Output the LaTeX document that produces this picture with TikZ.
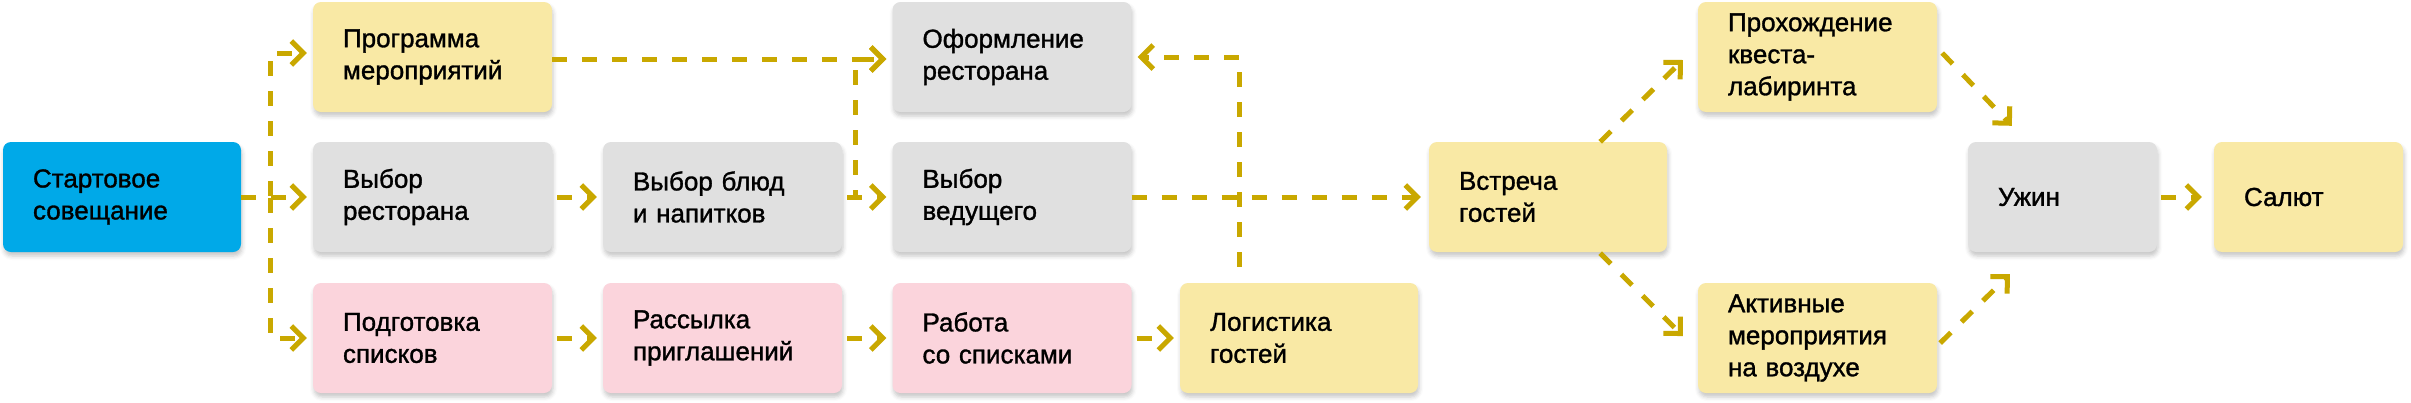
\documentclass[tikz,border=0pt]{standalone}
\usepackage{fontspec}
\setmainfont{Liberation Sans}
\newfontfamily\boxfont[FakeBold=1.2]{Liberation Sans}
\usetikzlibrary{arrows.meta,calc,shadows.blur}
\definecolor{cblue}{HTML}{00A9E8}
\definecolor{cyel}{HTML}{F9E9A5}
\definecolor{cgray}{HTML}{E0E0E0}
\definecolor{cpink}{HTML}{FBD4DC}
\definecolor{carrow}{HTML}{C9A800}
\begin{document}
\begin{tikzpicture}[x=1pt,y=-1pt,
  box/.style={rounded corners=8pt, inner xsep=30pt, inner ysep=0pt,
    minimum height=110pt, align=left,
    font=\boxfont\fontsize{26}{32}\selectfont, text=black,
    blur shadow={shadow xshift=1pt, shadow yshift=-4pt, shadow blur radius=4pt, shadow opacity=22}},
  wbox/.style={box, text width=179pt},
  nbox/.style={box, text width=129pt},
  con/.style={draw=carrow, line width=5pt, dash pattern=on 15pt off 15pt,
    -{Straight Barb[length=12pt,width=24pt]}, shorten >=6pt}]
\useasboundingbox (0,0) rectangle (2411,402);

% nodes
\node[wbox, fill=cblue, text width=178pt] (start) at (122,197) {Стартовое\\совещание};
\node[wbox, fill=cyel]  (prog)   at (432.5,57)  {Программа\\мероприятий};
\node[wbox, fill=cgray] (vrest)  at (432.5,197) {Выбор\\ресторана};
\node[wbox, fill=cpink] (podg)   at (432.5,338) {Подготовка\\списков};
\node[wbox, fill=cgray] (vblud)  at (722.5,197) {Выбор блюд\\и напитков};
\node[wbox, fill=cpink] (rass)   at (722.5,338) {Рассылка\\приглашений};
\node[wbox, fill=cgray] (oform)  at (1012,57)   {Оформление\\ресторана};
\node[wbox, fill=cgray] (vved)   at (1012,197)  {Выбор\\ведущего};
\node[wbox, fill=cpink] (rabota) at (1012,338)  {Работа\\со списками};
\node[wbox, fill=cyel, text width=178pt] (logist) at (1299,338) {Логистика\\гостей};
\node[wbox, fill=cyel, text width=178pt] (vstr)   at (1548,197) {Встреча\\гостей};
\node[wbox, fill=cyel]  (prox)   at (1817.5,57)  {Прохождение\\квеста-\\лабиринта};
\node[wbox, fill=cyel]  (aktiv)  at (1817.5,338) {Активные\\мероприятия\\на воздухе};
\node[nbox, fill=cgray] (uzhin)  at (2062.5,197) {Ужин};
\node[nbox, fill=cyel]  (salut)  at (2308.5,197) {Салют};

% connectors
\coordinate (tr) at (270,197);
\coordinate (jx) at (855,197);
\draw[con] (start.east) -| ($(tr |- prog.west)+(0,-4)$) -- ($(prog.west)+(0,-4)$);
\draw[con] (start.east) -- (vrest.west);
\draw[con] (start.east) -| (tr |- podg.west) -- (podg.west);

\draw[con, shorten <=5pt] (vrest.east) -- (vblud.west);
\draw[con, shorten <=5pt] (podg.east) -- (rass.west);
\draw[con, shorten <=5pt] (rass.east) -- (rabota.west);
\draw[con, shorten <=5pt] (rabota.east) -- (logist.west);

\draw[con] ($(prog.east)+(0,2)$) -- ($(oform.west)+(0,2)$);
\draw[con, shorten <=5pt] (vblud.east) -- (vved.west);
\draw[con, shorten <=5pt] (vblud.east) -- (jx) -- ($(jx |- oform.west)+(0,2)$) -- ($(oform.west)+(0,2)$);

\coordinate (lg) at ($(logist.north)+(-60,-16)$);
\draw[con] (lg) |- (oform.east);

\draw[con, shorten >=8pt] (vved.east) -- (vstr.west);

\draw[con, shorten >=0pt] ($(vstr.north east)+(-67,0)$) -- ($(prox.west)+(-15,3)$);
\draw[con, shorten >=0pt] ($(vstr.south east)+(-67,1)$) -- ($(aktiv.west)+(-15,-2)$);
\draw[con, shorten >=0pt] ($(prox.east)+(5,-4)$) -- ($(uzhin.north west)+(44,-16)$);
\draw[con, shorten >=0pt] ($(aktiv.east)+(3,5)$) -- ($(uzhin.south west)+(42,22)$);

\draw[con, shorten <=4pt, shorten >=12pt] (uzhin.east) -- (salut.west);
\end{tikzpicture}
\end{document}
